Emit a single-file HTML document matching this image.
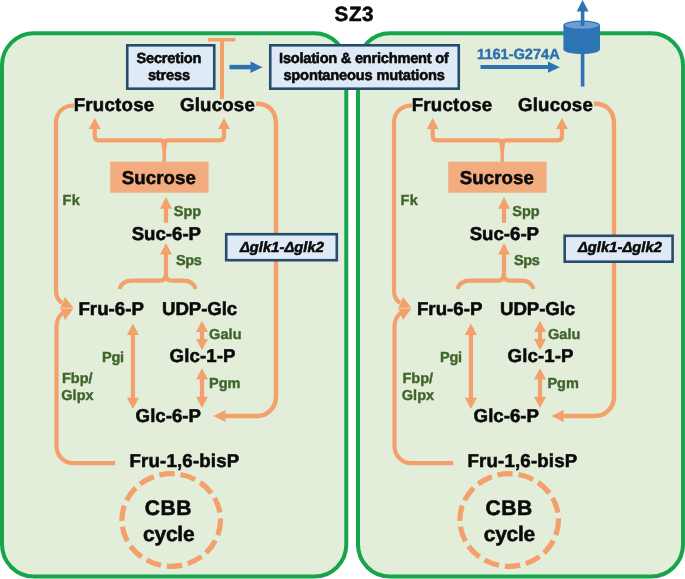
<!DOCTYPE html>
<html><head><meta charset="utf-8">
<style>
html,body{margin:0;padding:0;background:#fff;width:685px;height:579px;overflow:hidden}
svg{display:block;will-change:transform}
text{font-family:"Liberation Sans",sans-serif;font-weight:bold}
.o{fill:none;stroke:#f3a06d;stroke-width:4.2}
.oh{fill:#f3a06d}
</style></head><body>
<svg width="685" height="579" viewBox="0 0 685 579" text-rendering="geometricPrecision">



<rect x="2" y="33.2" width="344.3" height="543.4" rx="32" ry="32" fill="#e2eed9" stroke="#16a44d" stroke-width="4"/>
<rect x="358" y="33.2" width="325" height="543.4" rx="32" ry="32" fill="#e2eed9" stroke="#16a44d" stroke-width="4"/>

<g>
  
  <path class="o" d="M74,105.5 C64,105.5 56,111.5 56,123 V290 Q56,299 62,303"/>
  <path class="oh" d="M65,297 L73.5,308 L60,309 Z"/>
  
  <path class="o" d="M115.2,463.2 H73.5 A17,17 0 0 1 56.5,446.2 V327 Q56.5,318 62.5,313"/>
  <path class="oh" d="M60,307.8 L73.5,308.6 L65,320 Z"/>
  <path d="M61,308.2 H73" stroke="#f8d2b8" stroke-width="1"/>
  
  <path class="o" d="M94.7,128 V136 Q94.7,140.4 99,140.4 H160.4 Q164.2,140.4 164.2,144.5 Q164.2,140.4 168,140.4 H219.7 Q224,140.4 224,136 V128"/>
  <path class="oh" d="M161,141 L167.4,141 L165.9,152 L165.9,162 L162.5,162 L162.5,152 Z"/>
  <path class="oh" d="M88.7,129 L94.7,118 L100.7,129 Z"/>
  <path class="oh" d="M218,129 L224,118 L230,129 Z"/>
  
  <rect x="110.2" y="161.7" width="98.4" height="31" fill="#f3ac7f"/>
  
  <path class="o" d="M166,222.7 V207"/>
  <path class="oh" d="M160,208.7 L166,197 L172,208.7 Z"/>
  
  <path class="o" d="M166,276 V253"/>
  <path class="oh" d="M160,254.5 L166,243 L172,254.5 Z"/>
  
  <path class="o" d="M119.5,289 C121,283.5 125,280.7 132,280.7 H159.5 Q165.8,280.7 165.8,274.5 Q165.8,280.7 172.1,280.7 H183 C190,280.7 194,283.5 195.5,289"/>
  
  <path class="o" d="M132.9,333 V399"/>
  <path class="oh" d="M126.9,335 L132.9,323.6 L138.9,335 Z M126.9,397.7 L132.9,409.1 L138.9,397.7 Z"/>
  
  <path class="o" d="M202,330 V341"/>
  <path class="oh" d="M196,332 L202,320.7 L208,332 Z M196,338.9 L202,350.2 L208,338.9 Z"/>
  
  <path class="o" d="M202,377 V399"/>
  <path class="oh" d="M196,379.5 L202,368.2 L208,379.5 Z M196,396.8 L202,408.1 L208,396.8 Z"/>
  
  <path class="o" d="M256,103.8 H257 C268.5,103.8 276,111 276,124 V397 A19,19 0 0 1 257,416 H224" style="stroke-width:4.4"/>
  <path class="oh" d="M225.5,409.9 L213.4,416 L225.5,422.1 Z"/>
  
  <ellipse cx="171.2" cy="520" rx="49.3" ry="46.3" fill="none" stroke="#f3a06d" stroke-width="5.2" stroke-dasharray="15.5 5.8"/>
</g>
<g transform="translate(338,0)">
  
  <path class="o" d="M74,105.5 C64,105.5 56,111.5 56,123 V290 Q56,299 62,303"/>
  <path class="oh" d="M65,297 L73.5,308 L60,309 Z"/>
  
  <path class="o" d="M115.2,463.2 H73.5 A17,17 0 0 1 56.5,446.2 V327 Q56.5,318 62.5,313"/>
  <path class="oh" d="M60,307.8 L73.5,308.6 L65,320 Z"/>
  <path d="M61,308.2 H73" stroke="#f8d2b8" stroke-width="1"/>
  
  <path class="o" d="M94.7,128 V136 Q94.7,140.4 99,140.4 H160.4 Q164.2,140.4 164.2,144.5 Q164.2,140.4 168,140.4 H219.7 Q224,140.4 224,136 V128"/>
  <path class="oh" d="M161,141 L167.4,141 L165.9,152 L165.9,162 L162.5,162 L162.5,152 Z"/>
  <path class="oh" d="M88.7,129 L94.7,118 L100.7,129 Z"/>
  <path class="oh" d="M218,129 L224,118 L230,129 Z"/>
  
  <rect x="110.2" y="161.7" width="98.4" height="31" fill="#f3ac7f"/>
  
  <path class="o" d="M166,222.7 V207"/>
  <path class="oh" d="M160,208.7 L166,197 L172,208.7 Z"/>
  
  <path class="o" d="M166,276 V253"/>
  <path class="oh" d="M160,254.5 L166,243 L172,254.5 Z"/>
  
  <path class="o" d="M119.5,289 C121,283.5 125,280.7 132,280.7 H159.5 Q165.8,280.7 165.8,274.5 Q165.8,280.7 172.1,280.7 H183 C190,280.7 194,283.5 195.5,289"/>
  
  <path class="o" d="M132.9,333 V399"/>
  <path class="oh" d="M126.9,335 L132.9,323.6 L138.9,335 Z M126.9,397.7 L132.9,409.1 L138.9,397.7 Z"/>
  
  <path class="o" d="M202,330 V341"/>
  <path class="oh" d="M196,332 L202,320.7 L208,332 Z M196,338.9 L202,350.2 L208,338.9 Z"/>
  
  <path class="o" d="M202,377 V399"/>
  <path class="oh" d="M196,379.5 L202,368.2 L208,379.5 Z M196,396.8 L202,408.1 L208,396.8 Z"/>
  
  <path class="o" d="M256,103.8 H257 C268.5,103.8 276,111 276,124 V397 A19,19 0 0 1 257,416 H224" style="stroke-width:4.4"/>
  <path class="oh" d="M225.5,409.9 L213.4,416 L225.5,422.1 Z"/>
  
  <ellipse cx="171.2" cy="520" rx="49.3" ry="46.3" fill="none" stroke="#f3a06d" stroke-width="5.2" stroke-dasharray="15.5 5.8"/>
</g>
<rect x="226.2" y="234.2" width="110.6" height="26" fill="#deebf7" stroke="#264c6c" stroke-width="2.6"/>
<rect x="564.7" y="235.8" width="107.9" height="25.9" fill="#deebf7" stroke="#264c6c" stroke-width="2.6"/>
<text x="73.70" y="111.40" style="font-size:18.67px;letter-spacing:0.24px;fill:#0a0a0a;stroke:#0a0a0a;stroke-width:0.55px;">Fructose</text>
<text x="180.00" y="110.60" style="font-size:18.67px;letter-spacing:0.20px;fill:#0a0a0a;stroke:#0a0a0a;stroke-width:0.55px;">Glucose</text>
<text x="121.80" y="183.90" style="font-size:18.67px;letter-spacing:0.06px;fill:#0a0a0a;stroke:#0a0a0a;stroke-width:0.55px;">Sucrose</text>
<text x="131.70" y="239.50" style="font-size:18.67px;letter-spacing:-0.02px;fill:#0a0a0a;stroke:#0a0a0a;stroke-width:0.55px;">Suc-6-P</text>
<text x="78.40" y="315.00" style="font-size:18.67px;letter-spacing:0.04px;fill:#0a0a0a;stroke:#0a0a0a;stroke-width:0.55px;">Fru-6-P</text>
<text x="162.10" y="315.00" style="font-size:18.67px;letter-spacing:-0.10px;fill:#0a0a0a;stroke:#0a0a0a;stroke-width:0.55px;">UDP-Glc</text>
<text x="169.60" y="362.00" style="font-size:18.67px;letter-spacing:0.08px;fill:#0a0a0a;stroke:#0a0a0a;stroke-width:0.55px;">Glc-1-P</text>
<text x="135.60" y="422.20" style="font-size:18.67px;letter-spacing:0.02px;fill:#0a0a0a;stroke:#0a0a0a;stroke-width:0.55px;">Glc-6-P</text>
<text x="129.50" y="466.70" style="font-size:18.67px;letter-spacing:0.17px;fill:#0a0a0a;stroke:#0a0a0a;stroke-width:0.55px;">Fru-1,6-bisP</text>
<text x="144.80" y="514.90" style="font-size:21.00px;letter-spacing:0.60px;fill:#0a0a0a;stroke:#0a0a0a;stroke-width:0.55px;">CBB</text>
<text x="143.10" y="541.30" style="font-size:21.00px;letter-spacing:-0.27px;fill:#0a0a0a;stroke:#0a0a0a;stroke-width:0.55px;">cycle</text>
<text x="173.80" y="215.70" style="font-size:14.50px;letter-spacing:0.00px;fill:#40652c;stroke:#40652c;stroke-width:0.4px;">Spp</text>
<text x="176.00" y="264.60" style="font-size:14.50px;letter-spacing:-0.42px;fill:#40652c;stroke:#40652c;stroke-width:0.4px;">Sps</text>
<text x="62.60" y="205.10" style="font-size:14.50px;letter-spacing:0.36px;fill:#40652c;stroke:#40652c;stroke-width:0.4px;">Fk</text>
<text x="101.90" y="362.10" style="font-size:14.50px;letter-spacing:-0.18px;fill:#40652c;stroke:#40652c;stroke-width:0.4px;">Pgi</text>
<text x="62.00" y="383.30" style="font-size:14.50px;letter-spacing:0.00px;fill:#40652c;stroke:#40652c;stroke-width:0.4px;">Fbp/</text>
<text x="61.20" y="400.40" style="font-size:14.50px;letter-spacing:0.08px;fill:#40652c;stroke:#40652c;stroke-width:0.4px;">Glpx</text>
<text x="209.10" y="339.30" style="font-size:14.50px;letter-spacing:0.08px;fill:#40652c;stroke:#40652c;stroke-width:0.4px;">Galu</text>
<text x="209.10" y="388.20" style="font-size:14.50px;letter-spacing:-0.06px;fill:#40652c;stroke:#40652c;stroke-width:0.4px;">Pgm</text>
<text x="239.90" y="252.10" style="font-size:14.67px;letter-spacing:0.08px;fill:#0a0a0a;stroke:#0a0a0a;stroke-width:0.55px;font-style:italic;">Δglk1-Δglk2</text>
<text x="411.70" y="111.40" style="font-size:18.67px;letter-spacing:0.24px;fill:#0a0a0a;stroke:#0a0a0a;stroke-width:0.55px;">Fructose</text>
<text x="518.00" y="110.60" style="font-size:18.67px;letter-spacing:0.20px;fill:#0a0a0a;stroke:#0a0a0a;stroke-width:0.55px;">Glucose</text>
<text x="459.80" y="183.90" style="font-size:18.67px;letter-spacing:0.06px;fill:#0a0a0a;stroke:#0a0a0a;stroke-width:0.55px;">Sucrose</text>
<text x="469.70" y="239.50" style="font-size:18.67px;letter-spacing:-0.02px;fill:#0a0a0a;stroke:#0a0a0a;stroke-width:0.55px;">Suc-6-P</text>
<text x="416.90" y="315.00" style="font-size:18.67px;letter-spacing:0.04px;fill:#0a0a0a;stroke:#0a0a0a;stroke-width:0.55px;">Fru-6-P</text>
<text x="500.10" y="315.00" style="font-size:18.67px;letter-spacing:-0.10px;fill:#0a0a0a;stroke:#0a0a0a;stroke-width:0.55px;">UDP-Glc</text>
<text x="507.60" y="362.00" style="font-size:18.67px;letter-spacing:0.08px;fill:#0a0a0a;stroke:#0a0a0a;stroke-width:0.55px;">Glc-1-P</text>
<text x="473.60" y="422.20" style="font-size:18.67px;letter-spacing:0.02px;fill:#0a0a0a;stroke:#0a0a0a;stroke-width:0.55px;">Glc-6-P</text>
<text x="467.50" y="466.70" style="font-size:18.67px;letter-spacing:0.17px;fill:#0a0a0a;stroke:#0a0a0a;stroke-width:0.55px;">Fru-1,6-bisP</text>
<text x="485.50" y="514.90" style="font-size:21.00px;letter-spacing:0.60px;fill:#0a0a0a;stroke:#0a0a0a;stroke-width:0.55px;">CBB</text>
<text x="483.80" y="541.30" style="font-size:21.00px;letter-spacing:-0.27px;fill:#0a0a0a;stroke:#0a0a0a;stroke-width:0.55px;">cycle</text>
<text x="512.30" y="215.70" style="font-size:14.50px;letter-spacing:0.00px;fill:#40652c;stroke:#40652c;stroke-width:0.4px;">Spp</text>
<text x="514.00" y="264.60" style="font-size:14.50px;letter-spacing:-0.42px;fill:#40652c;stroke:#40652c;stroke-width:0.4px;">Sps</text>
<text x="400.60" y="205.10" style="font-size:14.50px;letter-spacing:0.36px;fill:#40652c;stroke:#40652c;stroke-width:0.4px;">Fk</text>
<text x="439.90" y="362.10" style="font-size:14.50px;letter-spacing:-0.18px;fill:#40652c;stroke:#40652c;stroke-width:0.4px;">Pgi</text>
<text x="402.50" y="383.30" style="font-size:14.50px;letter-spacing:0.00px;fill:#40652c;stroke:#40652c;stroke-width:0.4px;">Fbp/</text>
<text x="401.70" y="400.40" style="font-size:14.50px;letter-spacing:0.08px;fill:#40652c;stroke:#40652c;stroke-width:0.4px;">Glpx</text>
<text x="547.90" y="339.30" style="font-size:14.50px;letter-spacing:0.08px;fill:#40652c;stroke:#40652c;stroke-width:0.4px;">Galu</text>
<text x="547.50" y="388.20" style="font-size:14.50px;letter-spacing:-0.06px;fill:#40652c;stroke:#40652c;stroke-width:0.4px;">Pgm</text>
<text x="577.90" y="252.10" style="font-size:14.67px;letter-spacing:0.08px;fill:#0a0a0a;stroke:#0a0a0a;stroke-width:0.55px;font-style:italic;">Δglk1-Δglk2</text>


<path d="M222,40 V99" stroke="#f3a06d" stroke-width="4"/>
<path d="M208,39.7 H235.3" stroke="#f3a06d" stroke-width="3.5"/>
<rect x="127.25" y="45.3" width="87" height="43.4" fill="#deebf7" stroke="#264c6c" stroke-width="2.6"/>
<path d="M229.5,67.1 H251" stroke="#2e74b5" stroke-width="4.5"/>
<path d="M250.5,61.5 L262.6,67.2 L250.5,73 Z" fill="#2e74b5"/>
<rect x="270.25" y="45.3" width="188.5" height="43.4" fill="#deebf7" stroke="#264c6c" stroke-width="2.6"/>


<path d="M480.5,67.1 H549" stroke="#2e74b5" stroke-width="4"/>
<path d="M548,61.6 L559.8,67.2 L548,72.8 Z" fill="#2e74b5"/>
<path d="M582.6,50 V86.6" stroke="#2e74b5" stroke-width="3.6"/>
<path d="M563.4,25.3 V49.6 A18.3,4.3 0 0 0 600,49.6 V25.3 Z" fill="#2e74b5"/>
<ellipse cx="581.7" cy="25.3" rx="17.6" ry="4.2" fill="#6d9dd3" stroke="#2e74b5" stroke-width="1.4"/>
<path d="M582.6,26 V11" stroke="#2e74b5" stroke-width="3.6"/>
<path d="M576.7,11.4 L582.6,0 L588.6,11.4 Z" fill="#2e74b5"/>
<text x="334.60" y="20.90" style="font-size:20.60px;letter-spacing:0.55px;fill:#0a0a0a;stroke:#0a0a0a;stroke-width:0.55px;">SZ3</text>
<text x="136.40" y="63.10" style="font-size:14.67px;letter-spacing:-0.22px;fill:#0a0a0a;stroke:#0a0a0a;stroke-width:0.55px;">Secretion</text>
<text x="147.90" y="80.20" style="font-size:14.67px;letter-spacing:-0.19px;fill:#0a0a0a;stroke:#0a0a0a;stroke-width:0.55px;">stress</text>
<text x="279.10" y="62.90" style="font-size:14.67px;letter-spacing:-0.26px;fill:#0a0a0a;stroke:#0a0a0a;stroke-width:0.55px;">Isolation &amp; enrichment of</text>
<text x="283.40" y="80.10" style="font-size:14.67px;letter-spacing:-0.19px;fill:#0a0a0a;stroke:#0a0a0a;stroke-width:0.55px;">spontaneous mutations</text>
<text x="477.10" y="59.00" style="font-size:14.67px;letter-spacing:-0.05px;fill:#2e6fae;stroke:#2e6fae;stroke-width:0.4px;">1161-G274A</text>
</svg>
</body></html>
